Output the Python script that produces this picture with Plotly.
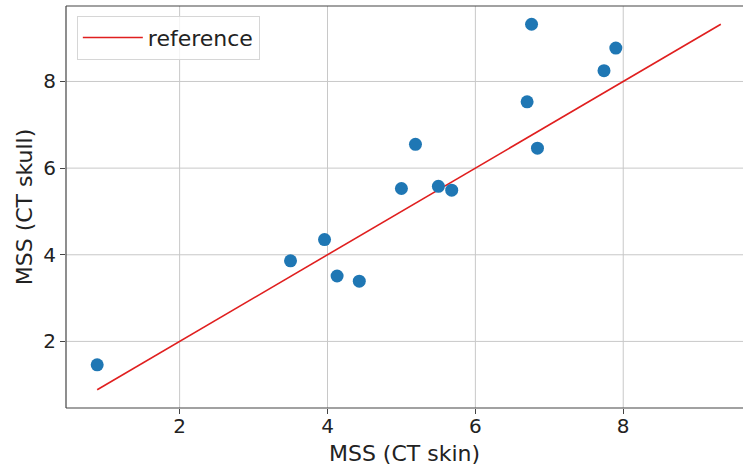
import plotly.graph_objects as go

# Data
ct_skin = [0.885, 3.50, 3.96, 4.13, 4.43, 5.00, 5.19, 5.50, 5.68, 6.70, 6.76, 6.84, 7.74, 7.90]
ct_skull = [1.46, 3.86, 4.35, 3.51, 3.39, 5.53, 6.55, 5.58, 5.49, 7.53, 9.32, 6.46, 8.25, 8.77]

ref_lo = min(ct_skin)
ref_hi = max(ct_skull)
ref_line = [ref_lo, ref_hi]

x_ticks = [2, 4, 6, 8]
y_ticks = [2, 4, 6, 8]

FONT = "DejaVu Sans"
FS = 22
TFS = 20

fig = go.Figure()
fig.add_trace(go.Scatter(
    x=ref_line, y=ref_line, mode="lines", name="reference",
    line=dict(color="#e01f1f", width=1.6),
))
fig.add_trace(go.Scatter(
    x=ct_skin, y=ct_skull, mode="markers", name="data", showlegend=False,
    marker=dict(color="#1f77b4", size=13, line=dict(width=0)),
))

span = ref_hi - ref_lo
lo = ref_lo - 0.05 * span
hi = ref_hi + 0.05 * span
# the plot area runs past the right edge of the picture in the reference
x_hi = lo + (hi - lo) * (677 / 686.0)

# grid lines drawn as shapes at the tick values
grid = dict(color="#c8c8c8", width=1)
for t in x_ticks:
    fig.add_shape(type="line", xref="x", yref="paper", x0=t, x1=t, y0=0, y1=1, line=grid, layer="below")
for t in y_ticks:
    fig.add_shape(type="line", xref="paper", yref="y", x0=0, x1=1, y0=t, y1=t, line=grid, layer="below")

spine = dict(color="#444444", width=1.2)
fig.add_shape(type="line", xref="paper", yref="paper", x0=0, x1=0, y0=0, y1=1, line=spine)
fig.add_shape(type="line", xref="paper", yref="paper", x0=0, x1=1, y0=0, y1=0, line=spine)
fig.add_shape(type="line", xref="paper", yref="paper", x0=0, x1=1, y0=1, y1=1, line=spine)

fig.update_layout(
    width=743, height=466,
    margin=dict(l=66, r=0, t=6, b=58, autoexpand=False),
    paper_bgcolor="white", plot_bgcolor="white",
    hovermode=False, dragmode=False,
    font=dict(family=FONT, size=FS, color="#222222"),
    showlegend=True,
    legend=dict(
        x=0.016, y=0.976, xanchor="left", yanchor="top",
        bgcolor="rgba(255,255,255,0.8)", bordercolor="#d6d6d6", borderwidth=1,
        font=dict(family=FONT, size=FS, color="#222222"),
        itemwidth=60,
    ),
    xaxis=dict(
        range=[lo, x_hi], tickvals=x_ticks, ticktext=[str(t) for t in x_ticks],
        showgrid=False, zeroline=False, showline=False,
        ticks="outside", ticklen=5, tickcolor="#444444",
        ticklabelstandoff=-5,
        tickfont=dict(family=FONT, size=TFS),
        title=dict(text="MSS (CT skin)", font=dict(family=FONT, size=FS), standoff=9),
        automargin=False,
    ),
    yaxis=dict(
        range=[lo, hi], tickvals=y_ticks, ticktext=[str(t) for t in y_ticks],
        showgrid=False, zeroline=False, showline=False,
        ticks="outside", ticklen=5, tickcolor="#444444",
        tickfont=dict(family=FONT, size=TFS),
        title=dict(text="MSS (CT skull)", font=dict(family=FONT, size=FS), standoff=4),
        automargin=False,
    ),
)

fig.write_html("out.html", config={"staticPlot": True, "displayModeBar": False})
